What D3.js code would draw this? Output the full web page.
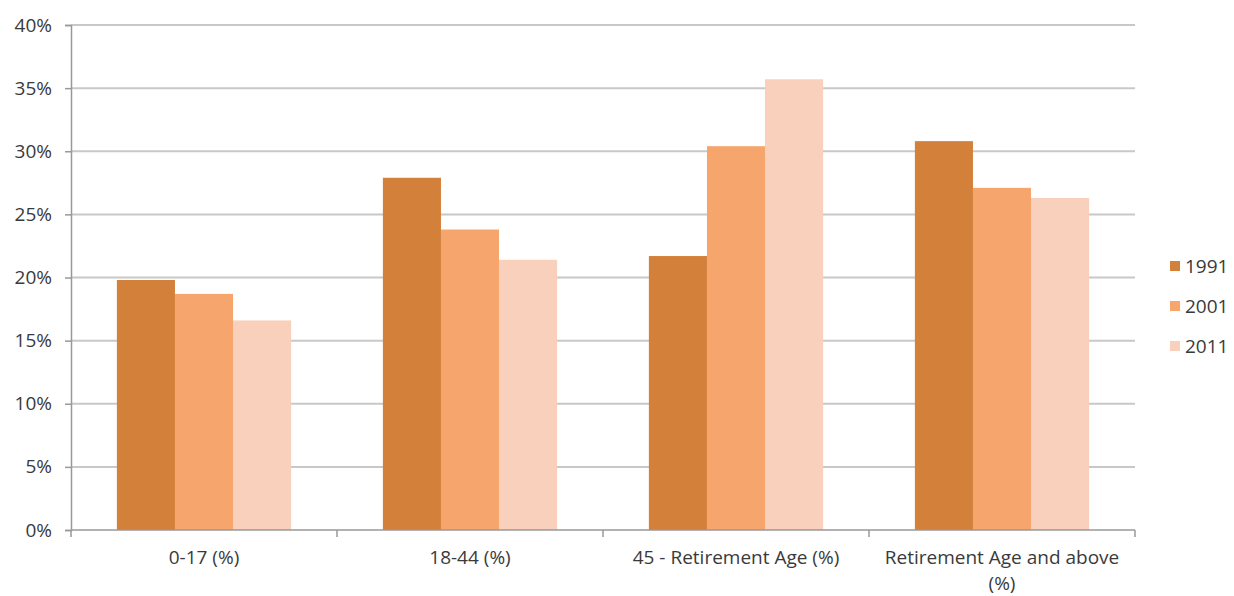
<!DOCTYPE html>
<html>
<head>
<meta charset="utf-8">
<script src="https://cdn.jsdelivr.net/npm/d3@7"></script>
<style>
  body { margin: 0; background: #fff; }
  svg { display: block; }
  text { font-family: "Open Sans", sans-serif; fill: #3a3a3a; }
</style>
</head>
<body>
<svg id="chart" width="1234" height="596"></svg>
<script>
// Population share by age band, census years
const categories = ["0-17 (%)", "18-44 (%)", "45 - Retirement Age (%)", "Retirement Age and above (%)"];
const years = ["1991", "2001", "2011"];
const values1991 = [19.8, 27.9, 21.7, 30.8];
const values2001 = [18.7, 23.8, 30.4, 27.1];
const values2011 = [16.6, 21.4, 35.7, 26.3];
const yTicks = [0, 5, 10, 15, 20, 25, 30, 35, 40];
const colors = ["#D3803A", "#F6A56C", "#F8D0BC"];

const seriesValues = [values1991, values2001, values2011];

const svg = d3.select("#chart");
const plotLeft = 71, plotRight = 1135, plotTop = 25, plotBottom = 530;
const fontSize = "19px";

const x = d3.scaleBand().domain(categories).range([plotLeft, plotRight]).paddingInner(0).paddingOuter(0);
// bars touch each other; the outer gap is given in bar-width units
const xInner = d3.scaleBand().domain(years).range([0, x.bandwidth()]).paddingInner(0).paddingOuter(0.79);
const y = d3.scaleLinear().domain([0, 40]).range([plotBottom, plotTop]);

// horizontal gridlines
svg.append("g")
  .selectAll("line")
  .data(yTicks.filter(t => t > 0))
  .join("line")
  .attr("x1", plotLeft).attr("x2", plotRight)
  .attr("y1", d => y(d)).attr("y2", d => y(d))
  .attr("stroke", "#c8c8c8").attr("stroke-width", 2);

// bars
const groups = svg.append("g")
  .selectAll("g")
  .data(categories.map((c, i) => ({ c, vals: seriesValues.map(s => s[i]) })))
  .join("g")
  .attr("transform", d => `translate(${x(d.c)},0)`);

groups.selectAll("rect")
  .data(d => d.vals.map((v, j) => ({ v, year: years[j], j })))
  .join("rect")
  .attr("x", d => xInner(d.year))
  .attr("width", xInner.bandwidth())
  .attr("y", d => y(d.v))
  .attr("height", d => plotBottom - y(d.v))
  .attr("fill", d => colors[d.j]);

// y axis
const yAxis = svg.append("g")
  .attr("transform", `translate(${plotLeft},0)`)
  .call(d3.axisLeft(y).tickValues(yTicks).tickFormat(d => d + "%").tickSize(6).tickPadding(13));
yAxis.select(".domain").attr("stroke", "#999").attr("stroke-width", 1.5);
yAxis.selectAll(".tick line").attr("stroke", "#999").attr("stroke-width", 1.5);
yAxis.selectAll(".tick text").style("font-size", fontSize).style("font-family", "'Open Sans', sans-serif").attr("fill", "#3a3a3a");

// x axis baseline with category boundary ticks
svg.append("line")
  .attr("x1", plotLeft).attr("x2", plotRight).attr("y1", plotBottom).attr("y2", plotBottom)
  .attr("stroke", "#999").attr("stroke-width", 1.5);
const boundaries = categories.map(c => x(c)).concat([x(categories[categories.length - 1]) + x.bandwidth()]);
svg.append("g").selectAll("line")
  .data(boundaries)
  .join("line")
  .attr("x1", d => d).attr("x2", d => d)
  .attr("y1", plotBottom).attr("y2", plotBottom + 7)
  .attr("stroke", "#999").attr("stroke-width", 1.5);

// category labels (the long one wraps onto two lines)
const labelLines = {
  "0-17 (%)": ["0-17 (%)"],
  "18-44 (%)": ["18-44 (%)"],
  "45 - Retirement Age (%)": ["45 - Retirement Age (%)"],
  "Retirement Age and above (%)": ["Retirement Age and above", "(%)"]
};
svg.append("g").selectAll("text")
  .data(categories)
  .join("text")
  .attr("x", d => x(d) + x.bandwidth() / 2)
  .attr("y", 564)
  .attr("text-anchor", "middle")
  .style("font-size", fontSize)
  .each(function(d) {
    d3.select(this).selectAll("tspan")
      .data(labelLines[d])
      .join("tspan")
      .attr("x", x(d) + x.bandwidth() / 2)
      .attr("dy", (l, i) => i === 0 ? 0 : 26)
      .text(l => l);
  });

// legend
const legend = svg.append("g").attr("transform", "translate(1170,266)");
const li = legend.selectAll("g").data(years).join("g")
  .attr("transform", (d, i) => `translate(0,${i * 40})`);
li.append("rect").attr("x", 0).attr("y", -5).attr("width", 10).attr("height", 10)
  .attr("fill", (d, i) => colors[i]);
li.append("text").attr("x", 15).attr("y", 0).attr("dy", "0.35em")
  .style("font-size", fontSize).text(d => d);
</script>
</body>
</html>
